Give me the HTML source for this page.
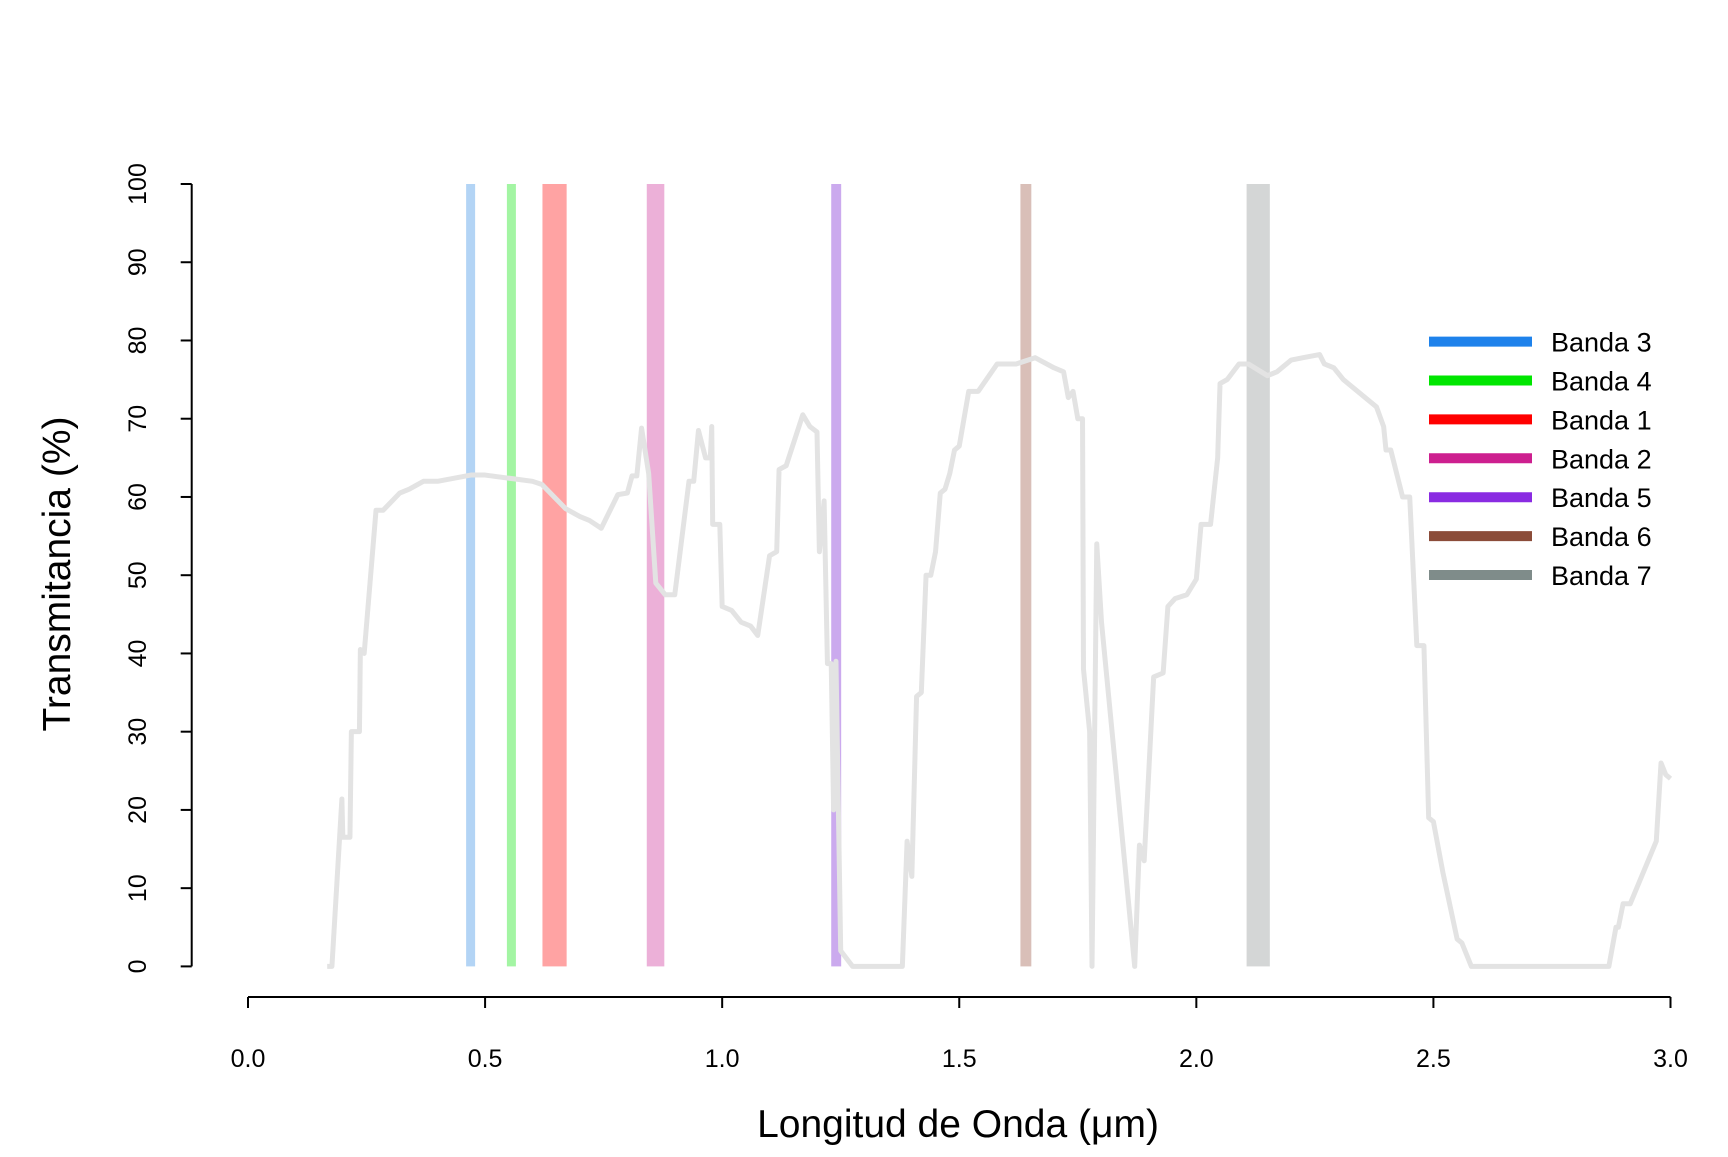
<!DOCTYPE html>
<html><head><meta charset="utf-8"><style>
body{margin:0;background:#fff;}
svg text{font-family:"Liberation Sans",Arial,sans-serif;fill:#000;}
</style></head><body>
<svg id="chart" width="1728" height="1152" xmlns="http://www.w3.org/2000/svg">
<g id="bands"></g>
<g id="curve"></g>
<g id="axes"></g>
<g id="legend"></g>
<text x="958" y="1137" font-size="39" text-anchor="middle">Longitud de Onda (μm)</text>
<text transform="translate(70,574) rotate(-90)" font-size="39" text-anchor="middle">Transmitancia (%)</text>
</svg>
<script>
const bandNames=["Banda 3","Banda 4","Banda 1","Banda 2","Banda 5","Banda 6","Banda 7"];
const bandStart=[0.46,0.546,0.621,0.841,1.230,1.629,2.106];
const bandEnd=[0.479,0.565,0.672,0.878,1.251,1.652,2.155];
const bandFill=["#b3d4f5","#a3f5a3","#ffa3a3","#ecb0d8","#cbaaee","#d9bfb8","#d4d6d6"];
const legendColor=["#1e82eb","#00e600","#ff0000","#cd1f8f","#8a2be2","#8b4c39","#7f8c8a"];
const waveX=[0.167,0.177,0.198,0.2,0.215,0.218,0.235,0.237,0.245,0.27,0.285,0.32,0.34,0.37,0.4,0.47,0.5,0.6,0.62,0.67,0.7,0.72,0.745,0.78,0.8,0.81,0.82,0.83,0.845,0.86,0.88,0.9,0.93,0.94,0.95,0.965,0.975,0.978,0.98,0.995,1.0,1.02,1.04,1.06,1.075,1.1,1.115,1.12,1.135,1.17,1.185,1.2,1.205,1.215,1.222,1.23,1.235,1.24,1.25,1.275,1.38,1.39,1.4,1.41,1.42,1.43,1.44,1.45,1.46,1.47,1.48,1.49,1.5,1.52,1.54,1.58,1.62,1.66,1.7,1.72,1.73,1.74,1.75,1.76,1.762,1.775,1.78,1.79,1.8,1.87,1.88,1.89,1.91,1.93,1.94,1.955,1.98,2.0,2.01,2.03,2.045,2.05,2.065,2.09,2.11,2.15,2.17,2.2,2.225,2.26,2.27,2.29,2.31,2.38,2.395,2.4,2.41,2.435,2.45,2.465,2.48,2.49,2.5,2.52,2.55,2.56,2.58,2.87,2.885,2.89,2.9,2.915,2.97,2.98,2.99,3.0];
const transY=[0,0,21.4,16.5,16.5,30,30,40.5,40,58.3,58.3,60.5,61,62,62,62.8,62.8,62,61.6,58.5,57.5,57,56,60.3,60.5,62.7,62.7,68.8,63,49,47.5,47.5,62,62,68.5,65,65,69,56.5,56.5,46,45.5,44,43.5,42.3,52.5,53,63.5,64,70.5,69,68.3,53,59.5,38.7,38.7,20,39,2,0,0,16,11.5,34.5,35,50,50,53,60.5,61,63,66,66.5,73.5,73.5,77,77,77.8,76.5,76,72.7,73.5,70,70,38,30,0,54,44,0,15.5,13.5,37,37.5,46,47,47.5,49.5,56.5,56.5,65,74.5,75,77,77,75.5,76,77.5,77.8,78.2,77,76.5,75,71.5,69,66,66,60,60,41,41,19,18.5,12,3.5,3,0,0,5,5,8,8,16,26,24.5,24];
const xTicks=[0,0.5,1,1.5,2,2.5,3];
const xTickLabels=["0.0","0.5","1.0","1.5","2.0","2.5","3.0"];
const yTicks=[0,10,20,30,40,50,60,70,80,90,100];
const NS="http://www.w3.org/2000/svg";
const X=v=>248+v*(1670.5-248)/3;
const Y=v=>966.4-v*(966.4-184)/100;
function mk(tag,parent,attrs){const e=document.createElementNS(NS,tag);for(const k in attrs)e.setAttribute(k,attrs[k]);parent.appendChild(e);return e;}
const gb=document.getElementById('bands');
bandStart.forEach((s,i)=>{
  const r=mk('rect',gb,{x:X(s),y:Y(100),width:X(bandEnd[i])-X(s),height:Y(0)-Y(100),fill:bandFill[i]});
  
  
});
const gc=document.getElementById('curve');
const p=mk('polyline',gc,{points:waveX.map((x,i)=>X(x)+','+Y(transY[i])).join(' '),fill:'none',stroke:'#e3e3e3','stroke-width':5,'stroke-linejoin':'round'});


const ga=document.getElementById('axes');
const AX=997;
const xl=mk('line',ga,{x1:X(0),x2:X(3),y1:AX,y2:AX,stroke:'#000','stroke-width':2});


xTicks.forEach((t,i)=>{
  mk('line',ga,{x1:X(t),x2:X(t),y1:AX,y2:AX+11,stroke:'#000','stroke-width':2});
  const tx=mk('text',ga,{x:X(t),y:1067,'font-size':25,'text-anchor':'middle'});
  tx.textContent=xTickLabels[i];
  
  
});
const yl=mk('line',ga,{x1:191.7,x2:191.7,y1:Y(0),y2:Y(100),stroke:'#000','stroke-width':2});


yTicks.forEach(t=>{
  mk('line',ga,{x1:180.7,x2:191.7,y1:Y(t),y2:Y(t),stroke:'#000','stroke-width':2});
  const tx=mk('text',ga,{transform:'translate(146,'+Y(t)+') rotate(-90)','font-size':25,'text-anchor':'middle'});
  tx.textContent=String(t);
  
  
});
const gl=document.getElementById('legend');
bandNames.forEach((n,i)=>{
  const y=341.6+i*38.9;
  const l=mk('line',gl,{x1:1429,x2:1532,y1:y,y2:y,stroke:legendColor[i],'stroke-width':10});
  
  
  const t=mk('text',gl,{x:1551,y:y+10,'font-size':27});
  t.textContent=n;
  
  
});
</script>
</body></html>
